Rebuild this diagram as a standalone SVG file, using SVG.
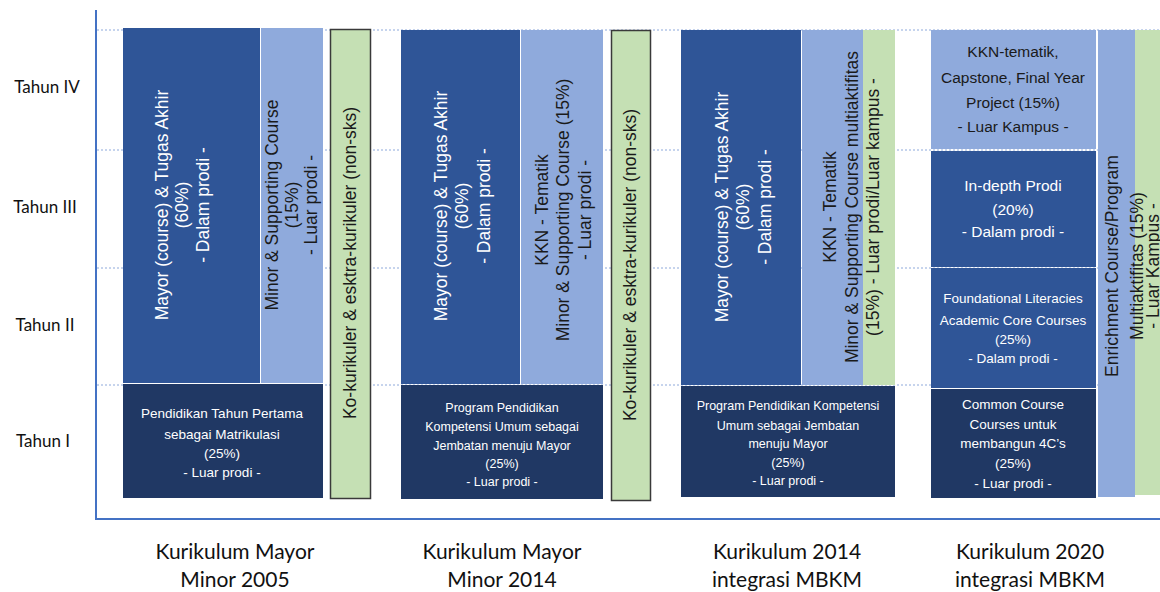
<svg xmlns="http://www.w3.org/2000/svg" width="1160" height="592" viewBox="0 0 1160 592">
  <style>
    .mayor { fill: #2F5597; }
    .minor { fill: #8FAADC; }
    .navy { fill: #203864; }
    .green { fill: #C5E0B4; }
    .greenb { fill: #C5E0B4; stroke: #3A3A3A; stroke-width: 1.5; }
    .grid { stroke: #8EA9DB; stroke-width: 1; stroke-dasharray: 2 2; fill: none; }
    .axis { stroke: #4472C4; stroke-width: 2; fill: none; }
    .t { font-family: "Liberation Sans", Arial, sans-serif; text-anchor: middle; }
    .w { fill: #FFFFFF; }
    .d { fill: #1A1A1A; }
    .lab { font-family: Lato, "Liberation Sans", sans-serif; text-anchor: middle; fill: #111111; }
  </style>

  <rect x="0" y="0" width="1160" height="592" fill="#FFFFFF"/>

  <!-- year gridlines -->
  <g id="grid">
    <line class="grid" x1="97" y1="30" x2="1160" y2="30"/>
    <line class="grid" x1="97" y1="150" x2="1160" y2="150"/>
    <line class="grid" x1="97" y1="268" x2="1160" y2="268"/>
    <line class="grid" x1="97" y1="385" x2="1160" y2="385"/>
  </g>

  <!-- axes -->
  <g id="axes">
    <line class="axis" x1="96" y1="10" x2="96" y2="519"/>
    <line class="axis" x1="95" y1="519" x2="1160" y2="519"/>
  </g>

  <!-- year labels -->
  <g id="years" font-size="17">
    <text class="lab" x="47" y="93">Tahun IV</text>
    <text class="lab" x="45" y="213">Tahun III</text>
    <text class="lab" x="45" y="331">Tahun II</text>
    <text class="lab" x="43" y="447">Tahun I</text>
  </g>

  <!-- Kurikulum Mayor Minor 2005 -->
  <g id="k2005">
    <g id="k2005-mayor">
      <rect class="mayor" x="123" y="28" width="137" height="355"/>
      <g transform="translate(188,205) rotate(-90)">
        <text class="t w" font-size="17.5" y="-20">Mayor (course) &amp; Tugas Akhir</text>
        <text class="t w" font-size="17.5" y="0">(60%)</text>
        <text class="t w" font-size="17.5" y="21">- Dalam prodi -</text>
      </g>
    </g>
    <g id="k2005-minor">
      <rect class="minor" x="261" y="28" width="62" height="355"/>
      <g transform="translate(298,205) rotate(-90)">
        <text class="t d" font-size="17.5" y="-20">Minor &amp; Supporting Course</text>
        <text class="t d" font-size="17.5" y="0">(15%)</text>
        <text class="t d" font-size="17.5" y="19">- Luar prodi -</text>
      </g>
    </g>
    <g id="k2005-tpb">
      <rect class="navy" x="123" y="384" width="200" height="114"/>
      <text class="t w" font-size="13.5" x="222" y="418">Pendidikan Tahun Pertama</text>
      <text class="t w" font-size="13.5" x="222" y="439">sebagai Matrikulasi</text>
      <text class="t w" font-size="13.5" x="222" y="458">(25%)</text>
      <text class="t w" font-size="13.5" x="222" y="477">- Luar prodi -</text>
    </g>
    <g id="k2005-ko">
      <rect class="greenb" x="330.5" y="29.5" width="40" height="469"/>
      <text class="t d" font-size="17.5" transform="translate(356,263) rotate(-90)">Ko-kurikuler &amp; esktra-kurikuler (non-sks)</text>
    </g>
  </g>

  <!-- Kurikulum Mayor Minor 2014 -->
  <g id="k2014">
    <g id="k2014-mayor">
      <rect class="mayor" x="401" y="30" width="119" height="354"/>
      <g transform="translate(468,206) rotate(-90)">
        <text class="t w" font-size="17.5" y="-21">Mayor (course) &amp; Tugas Akhir</text>
        <text class="t w" font-size="17.5" y="0">(60%)</text>
        <text class="t w" font-size="17.5" y="22">- Dalam prodi -</text>
      </g>
    </g>
    <g id="k2014-minor">
      <rect class="minor" x="521" y="30" width="82" height="354"/>
      <g transform="translate(569,210) rotate(-90)">
        <text class="t d" font-size="17.5" y="-21">KKN - Tematik</text>
        <text class="t d" font-size="17.5" y="0">Minor &amp; Supporting Course (15%)</text>
        <text class="t d" font-size="17.5" y="22">- Luar prodi -</text>
      </g>
    </g>
    <g id="k2014-pku">
      <rect class="navy" x="401" y="385" width="202" height="114"/>
      <text class="t w" font-size="12.5" x="502" y="412">Program Pendidikan</text>
      <text class="t w" font-size="12.5" x="502" y="431">Kompetensi Umum sebagai</text>
      <text class="t w" font-size="12.5" x="502" y="450">Jembatan menuju Mayor</text>
      <text class="t w" font-size="12.5" x="502" y="468">(25%)</text>
      <text class="t w" font-size="12.5" x="502" y="486">- Luar prodi -</text>
    </g>
    <g id="k2014-ko">
      <rect class="greenb" x="611.5" y="30.5" width="39" height="470"/>
      <text class="t d" font-size="17.5" transform="translate(636,265) rotate(-90)">Ko-kurikuler &amp; esktra-kurikuler (non-sks)</text>
    </g>
  </g>

  <!-- Kurikulum 2014 integrasi MBKM -->
  <g id="k2014m">
    <g id="k2014m-mayor">
      <rect class="mayor" x="681" y="30" width="120" height="355"/>
      <g transform="translate(749,207) rotate(-90)">
        <text class="t w" font-size="17.5" y="-21">Mayor (course) &amp; Tugas Akhir</text>
        <text class="t w" font-size="17.5" y="0">(60%)</text>
        <text class="t w" font-size="17.5" y="22">- Dalam prodi -</text>
      </g>
    </g>
    <g id="k2014m-minor">
      <rect class="minor" x="802" y="30" width="61" height="355"/>
      <rect class="green" x="863" y="30" width="32" height="355"/>
      <g transform="translate(858,207) rotate(-90)">
        <text class="t d" font-size="17.5" y="-22">KKN - Tematik</text>
        <text class="t d" font-size="17.5" y="0">Minor &amp; Supporting Course multiaktifitas</text>
        <text class="t d" font-size="17.5" y="21">(15%) - Luar prodi/Luar kampus -</text>
      </g>
    </g>
    <g id="k2014m-pku">
      <rect class="navy" x="681" y="386" width="214" height="111"/>
      <text class="t w" font-size="12.5" x="788" y="410">Program Pendidikan Kompetensi</text>
      <text class="t w" font-size="12.5" x="788" y="430">Umum sebagai Jembatan</text>
      <text class="t w" font-size="12.5" x="788" y="448">menuju Mayor</text>
      <text class="t w" font-size="12.5" x="788" y="467">(25%)</text>
      <text class="t w" font-size="12.5" x="788" y="485">- Luar prodi -</text>
    </g>
  </g>

  <!-- Kurikulum 2020 integrasi MBKM -->
  <g id="k2020">
    <g id="k2020-kkn">
      <rect class="minor" x="931" y="30" width="165" height="119"/>
      <text class="t d" font-size="15.5" x="1013" y="57">KKN-tematik,</text>
      <text class="t d" font-size="15.5" x="1013" y="83">Capstone, Final Year</text>
      <text class="t d" font-size="15.5" x="1013" y="108">Project (15%)</text>
      <text class="t d" font-size="15.5" x="1013" y="132">- Luar Kampus -</text>
    </g>
    <g id="k2020-indepth">
      <rect class="mayor" x="931" y="151" width="165" height="116"/>
      <text class="t w" font-size="15.5" x="1013" y="191">In-depth Prodi</text>
      <text class="t w" font-size="15.5" x="1013" y="215">(20%)</text>
      <text class="t w" font-size="15.5" x="1013" y="237">- Dalam prodi -</text>
    </g>
    <g id="k2020-foundational">
      <rect class="mayor" x="931" y="268" width="165" height="120"/>
      <text class="t w" font-size="13.5" x="1013" y="303">Foundational Literacies</text>
      <text class="t w" font-size="13.5" x="1013" y="325">Academic Core Courses</text>
      <text class="t w" font-size="13.5" x="1013" y="344">(25%)</text>
      <text class="t w" font-size="13.5" x="1013" y="363">- Dalam prodi -</text>
    </g>
    <g id="k2020-common">
      <rect class="navy" x="931" y="389" width="165" height="109"/>
      <text class="t w" font-size="13.5" x="1013" y="409">Common Course</text>
      <text class="t w" font-size="13.5" x="1013" y="429">Courses untuk</text>
      <text class="t w" font-size="13.5" x="1013" y="448">membangun 4C’s</text>
      <text class="t w" font-size="13.5" x="1013" y="468">(25%)</text>
      <text class="t w" font-size="13.5" x="1013" y="488">- Luar prodi -</text>
    </g>
    <g id="k2020-enrichment">
      <rect class="minor" x="1098" y="30" width="37" height="467"/>
      <rect class="green" x="1135" y="30" width="25" height="465"/>
      <g transform="translate(1118,266) rotate(-90)">
        <text class="t d" font-size="17.5" y="0">Enrichment Course/Program</text>
        <text class="t d" font-size="17.5" y="25">Multiaktifitas (15%)</text>
        <text class="t d" font-size="17.5" y="41">- Luar Kampus -</text>
      </g>
    </g>
  </g>

  <!-- curriculum captions -->
  <g id="captions" font-size="21">
    <text class="lab" x="235" y="559">Kurikulum Mayor</text>
    <text class="lab" x="235" y="587">Minor 2005</text>
    <text class="lab" x="502" y="559">Kurikulum Mayor</text>
    <text class="lab" x="502" y="587">Minor 2014</text>
    <text class="lab" x="787" y="559">Kurikulum 2014</text>
    <text class="lab" x="787" y="587">integrasi MBKM</text>
    <text class="lab" x="1030" y="559">Kurikulum 2020</text>
    <text class="lab" x="1030" y="587">integrasi MBKM</text>
  </g>
</svg>
